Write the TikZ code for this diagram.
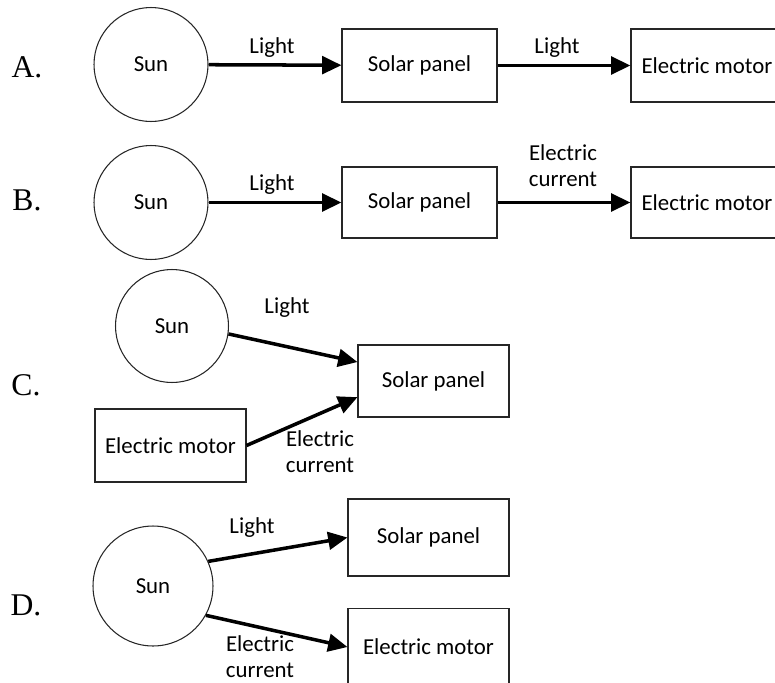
\documentclass[tikz,border=0pt]{standalone}
\usepackage{fontspec}
\setmainfont{Liberation Serif}
\newfontfamily\calibri{Carlito}
\usetikzlibrary{arrows.meta}
\tikzset{
    sol/.style    = {circle, draw=black!85, line width=0.6pt, minimum size=2.28cm, inner sep=0pt,
                     font=\calibri\fontsize{13}{15}\selectfont},
    caixa/.style  = {draw=black!85, line width=0.6pt, minimum width=3.1cm, minimum height=1.46cm,
                     inner sep=0pt, font=\calibri\fontsize{13}{15}\selectfont},
    seta/.style   = {-{Triangle[length=11pt,width=10pt]}, line width=2pt},
    rot/.style    = {font=\calibri\fontsize{13}{15}\selectfont, align=center, inner sep=1pt},
    letra/.style  = {font=\fontsize{18}{20}\selectfont},
}
\begin{document}
\begin{tikzpicture}[x=0.02cm, y=-0.02cm]
        \clip (0,0) rectangle (775,683);
        % A
        \node[letra] (letraA) at (27,67) {A.};
        \node[sol] (sunA) at (151,64.5) {Sun};
        \node[caixa] (panelA) at (419.5,65.5) {Solar panel};
        \node[caixa, minimum width=3.04cm] (motorA) at (707,65.5) {Electric motor};
        \draw[seta] (sunA) -- (panelA);
        \draw[seta] (panelA) -- (motorA);
        \node[rot] at (272,48) {Light};
        \node[rot] at (557,48) {Light};
        % B
        \node[letra] (letraB) at (27,200) {B.};
        \node[sol] (sunB) at (151,202.5) {Sun};
        \node[caixa, minimum height=1.42cm] (panelB) at (419.5,202.5) {Solar panel};
        \node[caixa, minimum width=3.04cm, minimum height=1.42cm] (motorB) at (707,202.5) {Electric motor};
        \draw[seta] (sunB) -- (panelB);
        \draw[seta] (panelB) -- (motorB);
        \node[rot] at (272,185) {Light};
        \node[rot] at (563,165.5) {Electric\\current};
        % C
        \node[letra] (letraC) at (26,385) {C.};
        \node[sol, minimum size=2.26cm] (sunC) at (172,326) {Sun};
        \node[caixa, minimum width=3.02cm, minimum height=1.44cm] (panelC) at (433.5,381) {Solar panel};
        \node[caixa, minimum width=3.02cm] (motorC) at (170.5,445.5) {Electric motor};
        \draw[seta] (sunC.-8) -- (panelC.166);
        \draw[seta] (motorC.east) -- (panelC.192);
        \node[rot] at (287,308) {Light};
        \node[rot] at (320,451.5) {Electric\\current};
        % D
        \node[letra] (letraD) at (26,605) {D.};
        \node[sol, minimum size=2.4cm] (sunD) at (153,586) {Sun};
        \node[caixa, minimum width=3.22cm, minimum height=1.54cm] (panelD) at (428.5,537.5) {Solar panel};
        \node[caixa, minimum width=3.22cm, minimum height=1.54cm] (motorD) at (428.5,647) {Electric motor};
        \draw[seta] (sunD.24) -- (panelD.west);
        \draw[seta] (sunD.-29) -- (motorD.west);
        \node[rot] at (252,528) {Light};
        \node[rot] at (260,656.5) {Electric\\current};
    \end{tikzpicture}
\end{document}
